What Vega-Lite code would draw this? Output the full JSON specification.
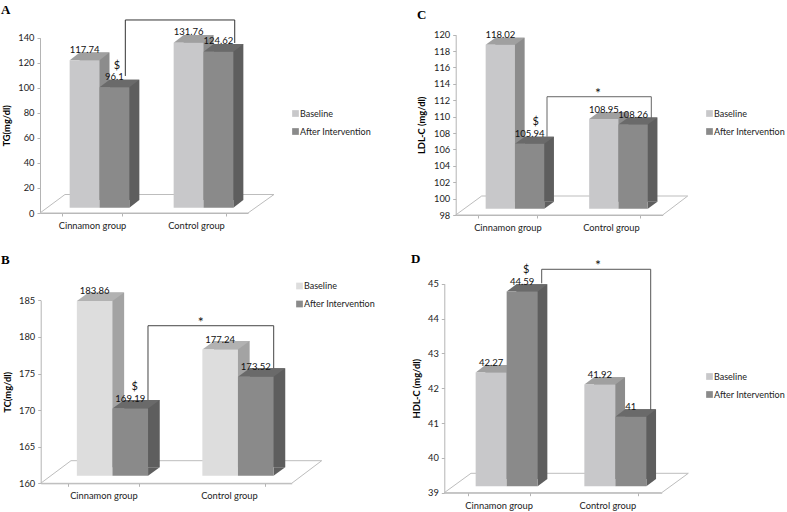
{"$schema":"https://vega.github.io/schema/vega-lite/v6.json","padding":0,"autosize":{"type":"pad"},"columns":2,"spacing":{"row":0,"column":-11.3},"bounds":"flush","background":"white",
"resolve":{"scale":{"color":"independent","x":"independent","y":"independent","xOffset":"independent"},"legend":{"color":"independent"}},
"config":{"view":{"stroke":null},"axis":{"domainColor":"#b4b4b4","tickColor":"#b4b4b4","tickSize":3,"grid":false,"labelFont":"Lato","labelFontSize":9.3,"labelColor":"#222222","labelPadding":3,"labelOverlap":false,"labelBound":false,"titleFont":"Lato","titleFontSize":9.3,"titleFontWeight":"bold","titleColor":"#000000"},"legend":{"orient":"none","symbolType":"square","symbolSize":45,"title":null,"labelFont":"Lato","labelFontSize":9,"labelColor":"#222222","rowPadding":8,"labelOffset":0,"padding":0,"symbolStrokeWidth":0},"title":{"font":"Liberation Serif","fontSize":13,"fontWeight":"bold","anchor":"start","frame":"group","offset":0,"baseline":"middle","color":"#000000"},"text":{"font":"Lato","fontSize":9.5,"color":"#111111"}},
"datasets":{"a":[{"group":"Cinnamon group","series":"Baseline","value":117.74},{"group":"Cinnamon group","series":"After Intervention","value":96.1},{"group":"Control group","series":"Baseline","value":131.76},{"group":"Control group","series":"After Intervention","value":124.62}],
"b":[{"group":"Cinnamon group","series":"Baseline","value":183.86},{"group":"Cinnamon group","series":"After Intervention","value":169.19},{"group":"Control group","series":"Baseline","value":177.24},{"group":"Control group","series":"After Intervention","value":173.52}],
"c":[{"group":"Cinnamon group","series":"Baseline","value":118.02},{"group":"Cinnamon group","series":"After Intervention","value":105.94},{"group":"Control group","series":"Baseline","value":108.95},{"group":"Control group","series":"After Intervention","value":108.26}],
"d":[{"group":"Cinnamon group","series":"Baseline","value":42.27},{"group":"Cinnamon group","series":"After Intervention","value":44.59},{"group":"Control group","series":"Baseline","value":41.92},{"group":"Control group","series":"After Intervention","value":41}]},
"concat":[
{"width":393,"height":256,"data":{"name":"a"},"title":{"text":"A","dx":1,"dy":21},"resolve":{"scale":{"xOffset":"independent"}},
"encoding":{"x":{"field":"group","type":"nominal","title":null,"scale":{"range":[40,248],"paddingInner":0.426,"paddingOuter":0.213},"axis":{"offset":-43,"tickBand":"extent","labelAngle":0,"labelPadding":5.5}},"xOffset":{"field":"series","type":"nominal","scale":{"domain":["Baseline","After Intervention"]}},"y":{"field":"value","type":"quantitative","title":"TG(mg/dl)","scale":{"domain":[0,140],"range":[213,37.7]},"axis":{"offset":-40,"values":[0,20,40,60,80,100,120,140],"titlePadding":6}}},
"layer":[
{"transform":[{"filter":"datum.group=='Cinnamon group'&&datum.series=='Baseline'"}],"mark":{"type":"point","shape":"M-37.1,0 L-12.1,-18.5 L196.9,-18.5 L170.9,0 Z","size":4,"filled":false,"stroke":"#bdbdbd","strokeWidth":1,"opacity":1},"encoding":{"y":{"datum":0}}},
{"transform":[{"filter":"datum.series=='Baseline'"}],"mark":{"type":"bar","color":"#8c8c8c","yOffset":-13,"y2Offset":-13},"encoding":{"y2":{"datum":0},"xOffset":{"field":"series","type":"nominal","scale":{"domain":["Baseline","After Intervention"],"range":[17.5,77.2]}}}},
{"transform":[{"filter":"datum.series=='Baseline'"}],"mark":{"type":"point","shape":"M-7.4,-5.3 L2.6,-13 L32.4,-13 L22.4,-5.3 Z","size":4,"filled":true,"fill":"#a0a0a0","strokeWidth":0,"opacity":1}},
{"transform":[{"filter":"datum.series=='After Intervention'"}],"mark":{"type":"bar","color":"#5e5e5e","yOffset":-13,"y2Offset":-13},"encoding":{"y2":{"datum":0},"xOffset":{"field":"series","type":"nominal","scale":{"domain":["Baseline","After Intervention"],"range":[17.5,77.2]}}}},
{"transform":[{"filter":"datum.series=='After Intervention'"}],"mark":{"type":"point","shape":"M22.4,-5.3 L22.4,-13 L32.4,-13 Z","size":4,"filled":true,"fill":"#5e5e5e","strokeWidth":0,"opacity":1},"encoding":{"y":{"datum":0}}},
{"transform":[{"filter":"datum.series=='After Intervention'"}],"mark":{"type":"point","shape":"M-7.4,-5.3 L2.6,-13 L32.4,-13 L22.4,-5.3 Z","size":4,"filled":true,"fill":"#6a6a6a","strokeWidth":0,"opacity":1}},
{"mark":{"type":"bar","yOffset":-5.3,"y2Offset":-5.3},"encoding":{"y2":{"datum":0},"xOffset":{"field":"series","type":"nominal","scale":{"domain":["Baseline","After Intervention"],"range":[7.5,67.2]}},"color":{"field":"series","type":"nominal","scale":{"domain":["Baseline","After Intervention"],"range":["#c8c8ca","#8a8a8a"]},"legend":{"legendX":291,"legendY":109}}}},
{"transform":[{"filter":"datum.group=='Cinnamon group'&&datum.series=='After Intervention'"}],"mark":{"type":"point","shape":"M18.4,-16.7 L18.4,-72.7 L127.8,-72.7 L127.8,-49.7","size":4,"filled":false,"stroke":"#333333","strokeWidth":1,"opacity":1}},
{"mark":{"type":"text","dx":7.5,"dy":-15.7,"baseline":"middle"},"encoding":{"text":{"field":"value","type":"quantitative"}}},
{"transform":[{"filter":"datum.group=='Cinnamon group'&&datum.series=='After Intervention'"}],"mark":{"type":"text","text":"$","dx":10,"dy":-27,"baseline":"middle","fontSize":11}}
]},
{"width":393,"height":256,"data":{"name":"c"},"title":{"text":"C","dx":24,"dy":26},"resolve":{"scale":{"xOffset":"independent"}},
"encoding":{"x":{"field":"group","type":"nominal","title":null,"scale":{"range":[62.7,269.7],"paddingInner":0.4338,"paddingOuter":0.2169},"axis":{"offset":-41,"tickBand":"extent","labelAngle":0,"labelPadding":5.5}},"xOffset":{"field":"series","type":"nominal","scale":{"domain":["Baseline","After Intervention"]}},"y":{"field":"value","type":"quantitative","title":"LDL-C (mg/dl)","scale":{"domain":[98,120],"range":[215,34.7]},"axis":{"offset":-62.7,"values":[98,100,102,104,106,108,110,112,114,116,118,120],"titlePadding":7}}},
"layer":[
{"transform":[{"filter":"datum.group=='Cinnamon group'&&datum.series=='Baseline'"}],"mark":{"type":"point","shape":"M-37.1,0 L-11.1,-19 L194.9,-19 L169.9,0 Z","size":4,"filled":false,"stroke":"#bdbdbd","strokeWidth":1,"opacity":1},"encoding":{"y":{"datum":98}}},
{"transform":[{"filter":"datum.series=='Baseline'"}],"mark":{"type":"bar","color":"#8c8c8c","yOffset":-13.3,"y2Offset":-13.3},"encoding":{"y2":{"datum":98},"xOffset":{"field":"series","type":"nominal","scale":{"domain":["Baseline","After Intervention"],"range":[17.2,75.8]}}}},
{"transform":[{"filter":"datum.series=='Baseline'"}],"mark":{"type":"point","shape":"M-7.15,-6.3 L2.55,-13.3 L31.85,-13.3 L22.15,-6.3 Z","size":4,"filled":true,"fill":"#a0a0a0","strokeWidth":0,"opacity":1}},
{"transform":[{"filter":"datum.series=='After Intervention'"}],"mark":{"type":"bar","color":"#5e5e5e","yOffset":-13.3,"y2Offset":-13.3},"encoding":{"y2":{"datum":98},"xOffset":{"field":"series","type":"nominal","scale":{"domain":["Baseline","After Intervention"],"range":[17.2,75.8]}}}},
{"transform":[{"filter":"datum.series=='After Intervention'"}],"mark":{"type":"point","shape":"M22.15,-6.3 L22.15,-13.3 L31.85,-13.3 Z","size":4,"filled":true,"fill":"#5e5e5e","strokeWidth":0,"opacity":1},"encoding":{"y":{"datum":98}}},
{"transform":[{"filter":"datum.series=='After Intervention'"}],"mark":{"type":"point","shape":"M-7.15,-6.3 L2.55,-13.3 L31.85,-13.3 L22.15,-6.3 Z","size":4,"filled":true,"fill":"#6a6a6a","strokeWidth":0,"opacity":1}},
{"mark":{"type":"bar","yOffset":-6.3,"y2Offset":-6.3},"encoding":{"y2":{"datum":98},"xOffset":{"field":"series","type":"nominal","scale":{"domain":["Baseline","After Intervention"],"range":[7.5,66.1]}},"color":{"field":"series","type":"nominal","scale":{"domain":["Baseline","After Intervention"],"range":["#c8c8ca","#8a8a8a"]},"legend":{"legendX":312,"legendY":109}}}},
{"transform":[{"filter":"datum.group=='Cinnamon group'&&datum.series=='After Intervention'"}],"mark":{"type":"point","shape":"M24.9,-13.2 L24.9,-53.2 L129.2,-53.2 L129.2,-31.6","size":4,"filled":false,"stroke":"#666666","strokeWidth":1,"opacity":1}},
{"mark":{"type":"text","dx":7.5,"dy":-15.7,"baseline":"middle"},"encoding":{"text":{"field":"value","type":"quantitative"}}},
{"transform":[{"filter":"datum.group=='Cinnamon group'&&datum.series=='After Intervention'"}],"mark":{"type":"text","text":"$","dx":13.5,"dy":-27.9,"baseline":"middle","fontSize":11}},
{"transform":[{"filter":"datum.group=='Cinnamon group'&&datum.series=='After Intervention'"}],"mark":{"type":"text","text":"*","dx":75.9,"dy":-56,"baseline":"middle","fontSize":14}}
]},
{"width":393,"height":256,"data":{"name":"b"},"title":{"text":"B","dx":1,"dy":15},"resolve":{"scale":{"xOffset":"independent"}},
"encoding":{"x":{"field":"group","type":"nominal","title":null,"scale":{"range":[40.7,291.7],"paddingInner":0.4327,"paddingOuter":0.2163},"axis":{"offset":-28.7,"tickBand":"extent","labelAngle":0,"labelPadding":5.5}},"xOffset":{"field":"series","type":"nominal","scale":{"domain":["Baseline","After Intervention"]}},"y":{"field":"value","type":"quantitative","title":"TC(mg/dl)","scale":{"domain":[160,185],"range":[227.3,44.3]},"axis":{"offset":-40.7,"values":[160,165,170,175,180,185],"titlePadding":6}}},
"layer":[
{"transform":[{"filter":"datum.group=='Cinnamon group'&&datum.series=='Baseline'"}],"mark":{"type":"point","shape":"M-44.95,0 L-14.65,-22.6 L236.05,-22.6 L206.05,0 Z","size":4,"filled":false,"stroke":"#bdbdbd","strokeWidth":1,"opacity":1},"encoding":{"y":{"datum":160}}},
{"transform":[{"filter":"datum.series=='Baseline'"}],"mark":{"type":"bar","color":"#a3a3a3","yOffset":-16.1,"y2Offset":-16.1},"encoding":{"y2":{"datum":160},"xOffset":{"field":"series","type":"nominal","scale":{"domain":["Baseline","After Intervention"],"range":[20.7,91.9]}}}},
{"transform":[{"filter":"datum.series=='Baseline'"}],"mark":{"type":"point","shape":"M-8.8,-7.6 L2.9,-16.1 L38.5,-16.1 L26.8,-7.6 Z","size":4,"filled":true,"fill":"#b2b2b2","strokeWidth":0,"opacity":1}},
{"transform":[{"filter":"datum.series=='After Intervention'"}],"mark":{"type":"bar","color":"#5e5e5e","yOffset":-16.1,"y2Offset":-16.1},"encoding":{"y2":{"datum":160},"xOffset":{"field":"series","type":"nominal","scale":{"domain":["Baseline","After Intervention"],"range":[20.7,91.9]}}}},
{"transform":[{"filter":"datum.series=='After Intervention'"}],"mark":{"type":"point","shape":"M26.8,-7.6 L26.8,-16.1 L38.5,-16.1 Z","size":4,"filled":true,"fill":"#5e5e5e","strokeWidth":0,"opacity":1},"encoding":{"y":{"datum":160}}},
{"transform":[{"filter":"datum.series=='After Intervention'"}],"mark":{"type":"point","shape":"M-8.8,-7.6 L2.9,-16.1 L38.5,-16.1 L26.8,-7.6 Z","size":4,"filled":true,"fill":"#6a6a6a","strokeWidth":0,"opacity":1}},
{"mark":{"type":"bar","yOffset":-7.6,"y2Offset":-7.6},"encoding":{"y2":{"datum":160},"xOffset":{"field":"series","type":"nominal","scale":{"domain":["Baseline","After Intervention"],"range":[9,80.2]}},"color":{"field":"series","type":"nominal","scale":{"domain":["Baseline","After Intervention"],"range":["#dddddd","#8a8a8a"]},"legend":{"legendX":295,"legendY":25.5}}}},
{"transform":[{"filter":"datum.group=='Cinnamon group'&&datum.series=='After Intervention'"}],"mark":{"type":"point","shape":"M26.75,-16 L26.75,-90.3 L152.45,-90.3 L152.45,-47.7","size":4,"filled":false,"stroke":"#444444","strokeWidth":1,"opacity":1}},
{"mark":{"type":"text","dx":9,"dy":-17.2,"baseline":"middle"},"encoding":{"text":{"field":"value","type":"quantitative"}}},
{"transform":[{"filter":"datum.group=='Cinnamon group'&&datum.series=='After Intervention'"}],"mark":{"type":"text","text":"$","dx":13.5,"dy":-29.3,"baseline":"middle","fontSize":11}},
{"transform":[{"filter":"datum.group=='Cinnamon group'&&datum.series=='After Intervention'"}],"mark":{"type":"text","text":"*","dx":79.5,"dy":-93,"baseline":"middle","fontSize":14}}
]},
{"width":393,"height":256,"data":{"name":"d"},"title":{"text":"D","dx":18,"dy":14},"resolve":{"scale":{"xOffset":"independent"}},
"encoding":{"x":{"field":"group","type":"nominal","title":null,"scale":{"range":[51.3,268.7],"paddingInner":0.4296,"paddingOuter":0.2148},"axis":{"offset":-19.3,"tickBand":"extent","labelAngle":0,"labelPadding":5.5}},"xOffset":{"field":"series","type":"nominal","scale":{"domain":["Baseline","After Intervention"]}},"y":{"field":"value","type":"quantitative","title":"HDL-C (mg/dl)","scale":{"domain":[39,45],"range":[236.7,27.7]},"axis":{"offset":-51.3,"values":[39,40,41,42,43,44,45],"titlePadding":6}}},
"layer":[
{"transform":[{"filter":"datum.group=='Cinnamon group'&&datum.series=='Baseline'"}],"mark":{"type":"point","shape":"M-38.85,0 L-12.15,-19.4 L205.15,-19.4 L178.55,0 Z","size":4,"filled":false,"stroke":"#bdbdbd","strokeWidth":1,"opacity":1},"encoding":{"y":{"datum":39}}},
{"transform":[{"filter":"datum.series=='Baseline'"}],"mark":{"type":"bar","color":"#8c8c8c","yOffset":-13.7,"y2Offset":-13.7},"encoding":{"y2":{"datum":39},"xOffset":{"field":"series","type":"nominal","scale":{"domain":["Baseline","After Intervention"],"range":[17.7,79.7]}}}},
{"transform":[{"filter":"datum.series=='Baseline'"}],"mark":{"type":"point","shape":"M-7.5,-6.4 L2.2,-13.7 L33.2,-13.7 L23.5,-6.4 Z","size":4,"filled":true,"fill":"#a0a0a0","strokeWidth":0,"opacity":1}},
{"transform":[{"filter":"datum.series=='After Intervention'"}],"mark":{"type":"bar","color":"#5e5e5e","yOffset":-13.7,"y2Offset":-13.7},"encoding":{"y2":{"datum":39},"xOffset":{"field":"series","type":"nominal","scale":{"domain":["Baseline","After Intervention"],"range":[17.7,79.7]}}}},
{"transform":[{"filter":"datum.series=='After Intervention'"}],"mark":{"type":"point","shape":"M23.5,-6.4 L23.5,-13.7 L33.2,-13.7 Z","size":4,"filled":true,"fill":"#5e5e5e","strokeWidth":0,"opacity":1},"encoding":{"y":{"datum":39}}},
{"transform":[{"filter":"datum.series=='After Intervention'"}],"mark":{"type":"point","shape":"M-7.5,-6.4 L2.2,-13.7 L33.2,-13.7 L23.5,-6.4 Z","size":4,"filled":true,"fill":"#6a6a6a","strokeWidth":0,"opacity":1}},
{"mark":{"type":"bar","yOffset":-6.4,"y2Offset":-6.4},"encoding":{"y2":{"datum":39},"xOffset":{"field":"series","type":"nominal","scale":{"domain":["Baseline","After Intervention"],"range":[8,70]}},"color":{"field":"series","type":"nominal","scale":{"domain":["Baseline","After Intervention"],"range":["#c8c8ca","#8a8a8a"]},"legend":{"legendX":312,"legendY":116}}}},
{"transform":[{"filter":"datum.group=='Cinnamon group'&&datum.series=='After Intervention'"}],"mark":{"type":"point","shape":"M27.55,-14.7 L27.55,-28.7 L136.55,-28.7 L136.55,112","size":4,"filled":false,"stroke":"#555555","strokeWidth":1,"opacity":1}},
{"mark":{"type":"text","dx":8,"dy":-16,"baseline":"middle"},"encoding":{"text":{"field":"value","type":"quantitative"}}},
{"transform":[{"filter":"datum.group=='Cinnamon group'&&datum.series=='After Intervention'"}],"mark":{"type":"text","text":"$","dx":12,"dy":-28,"baseline":"middle","fontSize":11}},
{"transform":[{"filter":"datum.group=='Cinnamon group'&&datum.series=='After Intervention'"}],"mark":{"type":"text","text":"*","dx":83.85,"dy":-32,"baseline":"middle","fontSize":14}}
]}
]}
